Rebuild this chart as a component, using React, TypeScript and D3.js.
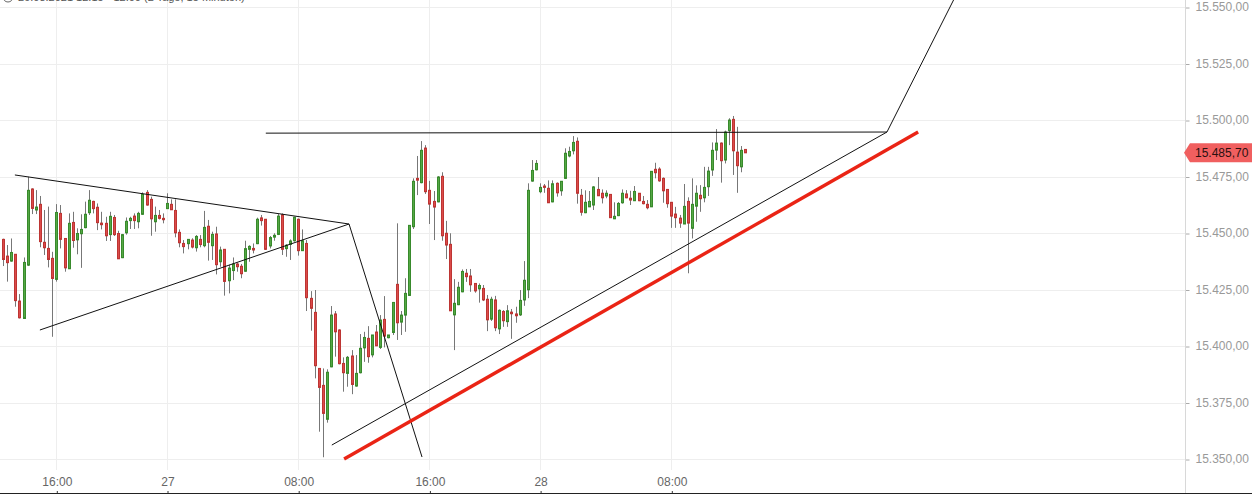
import { useEffect, useRef } from 'react'
import * as d3 from 'd3'

const W = 1252
const H = 495

// 15 minute candles
const opens = [
  15447.4,15440.0,15437.8,15440.8,15420.1,15412.4,15436.0,15469.7,15460.4,15462.9,
  15446.1,15443.4,15439.0,15429.7,15458.9,15447.8,15434.4,15454.9,15447.2,15449.9,
  15452.6,15459.2,15464.2,15461.6,15454.6,15454.5,15449.5,15457.1,15450.0,15439.3,
  15450.3,15455.7,15457.7,15455.2,15458.5,15468.2,15465.1,15455.2,15458.0,15456.7,
  15461.0,15462.9,15460.2,15450.5,15445.6,15445.5,15447.1,15443.7,15447.4,15444.6,
  15453.2,15444.6,15449.8,15437.5,15443.0,15429.1,15433.6,15436.5,15435.5,15433.3,
  15443.0,15443.4,15445.5,15456.9,15456.3,15444.5,15448.4,15449.6,15458.3,15443.3,
  15445.2,15446.8,15456.3,15442.4,15445.6,15421.3,15415.1,15390.3,15382.8,15367.8,
  15391.0,15414.4,15407.3,15392.5,15388.1,15395.8,15382.5,15388.4,15399.4,15403.6,
  15396.3,15406.4,15399.6,15412.0,15403.9,15406.2,15427.5,15410.8,15413.9,15422.6,
  15453.0,15474.4,15472.5,15487.8,15469.1,15464.2,15464.0,15475.3,15450.1,15445.2,
  15414.0,15418.5,15424.2,15432.4,15431.2,15427.9,15425.5,15425.7,15420.9,15412.1,
  15420.6,15407.8,15415.5,15411.0,15415.2,15414.4,15414.0,15420.6,15425.1,15473.2,
  15478.2,15468.5,15471.0,15470.0,15464.0,15472.2,15468.9,15474.4,15484.3,15486.6,
  15490.8,15466.9,15459.2,15461.8,15462.6,15469.5,15467.8,15466.6,15467.3,15456.5,
  15457.9,15463.6,15467.5,15465.6,15464.5,15467.8,15464.2,15462.9,15461.8,15478.4,
  15478.5,15474.4,15469.5,15463.8,15458.6,15456.8,15454.2,15464.2,15452.3,15462.1,
  15466.9,15465.8,15470.7,15478.1,15486.9,15490.0,15482.5,15495.5,15500.5,15486.0,15479.5,15487.2,
]
const highs = [
  15447.7,15444.9,15447.8,15440.8,15423.2,15439.4,15475.1,15470.0,15469.2,15466.6,
  15460.4,15461.9,15441.9,15463.0,15462.6,15447.8,15458.9,15459.6,15452.3,15458.5,
  15464.1,15469.2,15464.5,15463.3,15459.6,15457.4,15459.6,15458.2,15451.2,15449.8,
  15457.1,15457.4,15458.9,15459.6,15468.2,15469.2,15466.3,15461.9,15460.4,15458.9,
  15467.8,15465.1,15465.1,15451.8,15447.1,15447.4,15447.9,15449.3,15449.3,15460.0,
  15456.0,15450.8,15453.0,15444.2,15443.1,15436.2,15439.4,15437.1,15436.5,15446.8,
  15444.8,15445.6,15457.0,15458.2,15456.4,15448.9,15450.1,15458.6,15458.9,15445.3,
  15447.4,15457.4,15456.6,15451.8,15447.1,15424.5,15425.0,15390.5,15390.3,15389.9,
  15417.9,15415.7,15407.6,15395.2,15395.8,15398.4,15396.2,15405.5,15406.5,15409.0,
  15405.1,15409.5,15413.9,15422.3,15405.1,15419.7,15454.5,15415.7,15430.2,15453.7,
  15474.4,15484.3,15490.9,15489.1,15473.3,15468.8,15475.4,15477.1,15455.6,15450.1,
  15429.8,15428.6,15434.1,15434.3,15434.3,15427.9,15427.9,15427.2,15422.8,15422.0,
  15422.4,15416.4,15416.1,15418.3,15416.6,15417.6,15425.0,15437.8,15472.2,15482.5,
  15482.5,15472.2,15471.9,15473.5,15473.5,15472.6,15473.2,15487.7,15488.4,15493.1,
  15492.5,15469.7,15469.1,15468.8,15471.0,15475.0,15469.5,15469.1,15467.3,15463.8,
  15463.9,15469.5,15469.2,15468.9,15471.0,15467.9,15466.6,15464.8,15477.6,15481.3,
  15479.3,15474.8,15469.7,15463.8,15461.8,15458.2,15471.9,15466.0,15474.4,15471.3,
  15471.4,15479.5,15479.5,15490.3,15496.2,15490.3,15495.5,15501.0,15502.0,15497.2,15488.7,15487.2,
]
const lows = [
  15435.6,15428.7,15437.5,15417.6,15412.4,15412.3,15435.6,15458.6,15458.6,15443.9,
  15440.5,15435.0,15404.3,15428.7,15443.4,15433.1,15434.4,15443.7,15440.8,15434.8,
  15452.3,15458.2,15458.9,15451.5,15451.8,15446.7,15446.7,15448.9,15438.8,15439.1,
  15449.5,15452.0,15452.0,15452.3,15458.2,15462.3,15449.0,15450.8,15456.2,15454.5,
  15461.0,15460.4,15448.3,15443.9,15441.2,15443.0,15443.4,15442.0,15443.9,15443.9,
  15438.0,15438.3,15431.9,15435.3,15422.5,15423.5,15429.4,15433.1,15430.2,15433.0,
  15437.5,15441.2,15445.3,15453.5,15442.7,15443.4,15446.8,15449.3,15440.5,15439.7,
  15438.3,15446.4,15440.2,15442.3,15415.7,15407.0,15385.9,15362.3,15351.0,15366.3,
  15390.8,15395.5,15392.1,15380.0,15382.2,15378.9,15382.2,15388.1,15393.2,15392.8,
  15395.2,15400.2,15398.9,15399.6,15403.6,15405.1,15402.9,15405.1,15406.5,15422.4,
  15452.0,15467.0,15472.2,15467.5,15454.2,15447.1,15463.8,15446.8,15438.7,15415.7,
  15398.4,15418.3,15424.0,15428.6,15424.2,15423.8,15419.4,15420.1,15406.8,15411.3,
  15406.8,15405.5,15408.7,15408.7,15403.4,15410.5,15413.5,15418.0,15421.4,15472.9,
  15477.9,15467.8,15468.0,15463.5,15463.8,15466.3,15466.7,15474.1,15483.7,15485.0,
  15463.2,15457.9,15459.0,15461.7,15460.4,15466.6,15463.3,15465.6,15456.9,15456.4,
  15457.7,15463.2,15465.6,15462.6,15464.4,15464.3,15462.9,15460.7,15461.7,15474.4,
  15472.9,15463.6,15461.4,15452.5,15452.5,15452.5,15454.2,15432.4,15447.8,15455.2,
  15459.6,15463.8,15466.6,15475.5,15482.5,15472.5,15481.0,15489.1,15475.9,15468.0,15477.1,15485.7,
]
const closes = [
  15438.5,15437.1,15441.6,15420.3,15412.7,15437.2,15469.1,15461.1,15461.7,15446.4,
  15443.7,15438.5,15430.1,15459.3,15447.4,15434.8,15454.5,15446.9,15450.0,15451.8,
  15458.5,15464.7,15461.0,15454.8,15453.9,15449.0,15457.6,15449.5,15438.8,15449.5,
  15455.4,15456.7,15455.7,15458.9,15467.3,15462.6,15456.5,15458.0,15456.7,15456.1,
  15463.3,15460.5,15450.3,15445.9,15444.2,15447.4,15444.0,15448.7,15445.1,15452.7,
  15446.1,15449.6,15436.2,15442.7,15428.8,15434.7,15436.5,15435.3,15432.2,15443.3,
  15444.3,15442.7,15456.3,15455.7,15443.0,15448.2,15449.2,15457.7,15443.0,15444.8,
  15446.7,15457.2,15442.4,15446.8,15421.6,15416.9,15391.5,15381.9,15370.4,15388.6,
  15413.9,15406.5,15392.4,15388.4,15395.2,15383.2,15388.1,15399.2,15404.0,15395.5,
  15405.1,15400.3,15411.7,15404.6,15405.1,15419.5,15410.5,15413.9,15423.5,15453.6,
  15473.1,15473.6,15486.8,15468.5,15463.0,15461.7,15475.0,15449.0,15444.9,15415.8,
  15419.1,15426.2,15433.2,15430.9,15427.3,15424.6,15427.0,15420.6,15411.8,15420.9,
  15408.3,15416.0,15411.4,15415.8,15414.5,15413.6,15420.4,15429.3,15469.1,15477.9,
  15481.0,15470.4,15470.4,15463.6,15472.0,15468.0,15473.1,15485.5,15486.3,15490.3,
  15467.8,15459.4,15463.8,15464.2,15470.6,15466.7,15465.8,15467.8,15457.0,15457.6,
  15463.3,15467.8,15465.8,15464.8,15468.6,15464.5,15463.2,15461.4,15477.5,15476.9,
  15473.3,15468.9,15463.2,15457.7,15457.0,15454.6,15462.0,15454.6,15462.9,15467.8,
  15465.4,15470.4,15477.6,15486.8,15490.0,15482.2,15494.9,15500.2,15486.6,15480.0,15486.8,15485.7,
]

const priceTicks = [15350, 15375, 15400, 15425, 15450, 15475, 15500, 15525, 15550]
const timeTicks = [13, 40, 72, 104, 131, 163]
const timeLabels = ['16:00', '27', '08:00', '16:00', '28', '08:00']
const lastPrice = 15485.7

// drawn trend lines as [candle index, price]
const wedgeTop = [[2.9, 15475.9], [84.4, 15454.2]]
const wedgeBottom = [[9.0, 15407.3], [84.4, 15454.2]]
const dropLine = [[84.4, 15454.2], [102.2, 15351.1]]
const resistance = [[64.1, 15494.4], [215.6, 15494.9]]
const support = [[80.2, 15356.4], [215.6, 15494.9]]
const breakout = [[215.6, 15494.9], [232.2, 15554.6]]
const redSupport = [[83.2, 15350.2], [223.2, 15494.9]]

const font = '"Liberation Sans", Arial, sans-serif'
const numFormat = d3.formatLocale({ decimal: ',', thousands: '.', grouping: [3], currency: ['', ''] }).format(',.2f')

export default function App() {
  const ref = useRef<SVGSVGElement>(null)

  useEffect(() => {
    const svg = d3.select(ref.current)
    svg.selectAll('*').remove()

    const x = d3.scaleLinear().domain([0, 181]).range([3, 745.1])
    const y = d3.scaleLinear().domain([15350, 15550]).range([459.5, 7.5])
    const axisX = 1185

    // grid
    const grid = svg.append('g').attr('stroke', '#eeeeee').attr('shape-rendering', 'crispEdges')
    grid.selectAll('line.h').data(priceTicks).enter().append('line')
      .attr('x1', 0).attr('x2', axisX)
      .attr('y1', (d: number) => Math.floor(y(d)) + 0.5).attr('y2', (d: number) => Math.floor(y(d)) + 0.5)
    grid.selectAll('line.v').data(timeTicks).enter().append('line')
      .attr('x1', (d: number) => Math.round(x(d)) + 0.5).attr('x2', (d: number) => Math.round(x(d)) + 0.5)
      .attr('y1', 0).attr('y2', 470)

    // price axis
    const yAxis = d3.axisRight(y).tickValues(priceTicks).tickSize(4).tickPadding(6).tickFormat((d: any) => numFormat(d))
    const yg = svg.append('g').attr('transform', `translate(${axisX + 0.5},0)`).call(yAxis)
    yg.select('.domain').remove()
    yg.selectAll('line').attr('stroke', '#aaaaaa')
    yg.selectAll('text').attr('fill', '#999999').attr('font-size', 12).attr('font-family', font).attr('dy', '0.25em')
    svg.append('line').attr('x1', axisX + 0.5).attr('x2', axisX + 0.5).attr('y1', 0).attr('y2', 493)
      .attr('stroke', '#d8d8d8')

    // time axis
    const xAxis = d3.axisTop(x).tickValues(timeTicks).tickSize(3).tickPadding(5)
      .tickFormat((_: any, i: number) => timeLabels[i])
    const xg = svg.append('g').attr('transform', 'translate(0.5,494)').call(xAxis)
    xg.select('.domain').remove()
    xg.selectAll('line').attr('stroke', '#333333')
    xg.selectAll('text').attr('fill', '#666666').attr('font-size', 12).attr('font-family', font)
    svg.append('line').attr('x1', 0).attr('x2', W).attr('y1', 493.5).attr('y2', 493.5)
      .attr('stroke', '#222222')

    // candles
    const idx = d3.range(opens.length)
    const px = (i: number) => Math.round(x(i)) + 0.5
    const up = (i: number) => closes[i] >= opens[i]
    const c = svg.append('g')
    c.selectAll('line').data(idx).enter().append('line')
      .attr('x1', px).attr('x2', px)
      .attr('y1', (i: number) => y(highs[i])).attr('y2', (i: number) => y(lows[i]))
      .attr('stroke', '#777777')
    c.selectAll('rect').data(idx).enter().append('rect')
      .attr('x', (i: number) => px(i) - 1).attr('width', 2)
      .attr('y', (i: number) => y(Math.max(opens[i], closes[i])))
      .attr('height', (i: number) => Math.max(1, Math.abs(y(opens[i]) - y(closes[i]))))
      .attr('fill', (i: number) => up(i) ? '#55a845' : '#dc4b4a')
      .attr('stroke', (i: number) => up(i) ? '#388a2c' : '#bd3533')

    // trend lines
    const line = d3.line<number[]>().x((d) => x(d[0])).y((d) => y(d[1]))
    const thin = [wedgeTop, wedgeBottom, dropLine, resistance, support, breakout]
    svg.append('g').selectAll('path').data(thin).enter().append('path')
      .attr('d', (d: number[][]) => line(d))
      .attr('fill', 'none').attr('stroke', '#111111').attr('stroke-width', 1)
    svg.append('path').attr('d', line(redSupport)).attr('fill', 'none')
      .attr('stroke', '#ea2415').attr('stroke-width', 3.4)

    // last price tag
    const ty = y(lastPrice)
    svg.append('path')
      .attr('d', `M${axisX - 1},${ty} L${axisX + 5},${ty - 9.5} H${W} V${ty + 9.5} H${axisX + 5} Z`)
      .attr('fill', '#f05f5f')
    svg.append('text').attr('x', axisX + 10).attr('y', ty + 4.5)
      .attr('font-size', 12).attr('font-family', font).attr('fill', '#2a1010')
      .text(numFormat(lastPrice))

    // clipped header above the plot
    svg.append('circle').attr('cx', 8).attr('cy', -3).attr('r', 5).attr('fill', 'none').attr('stroke', '#666666')
    svg.append('text').attr('x', 18).attr('y', 0.5)
      .attr('font-size', 11).attr('font-family', font).attr('fill', '#555555')
      .text('26.08.2021 12:15 - 12:00  (2 Tage, 15 Minuten)')
  }, [])

  return <svg ref={ref} width={W} height={H} style={{ position: 'absolute', left: 0, top: 0, display: 'block', overflow: 'hidden', background: '#fff' }} />
}
